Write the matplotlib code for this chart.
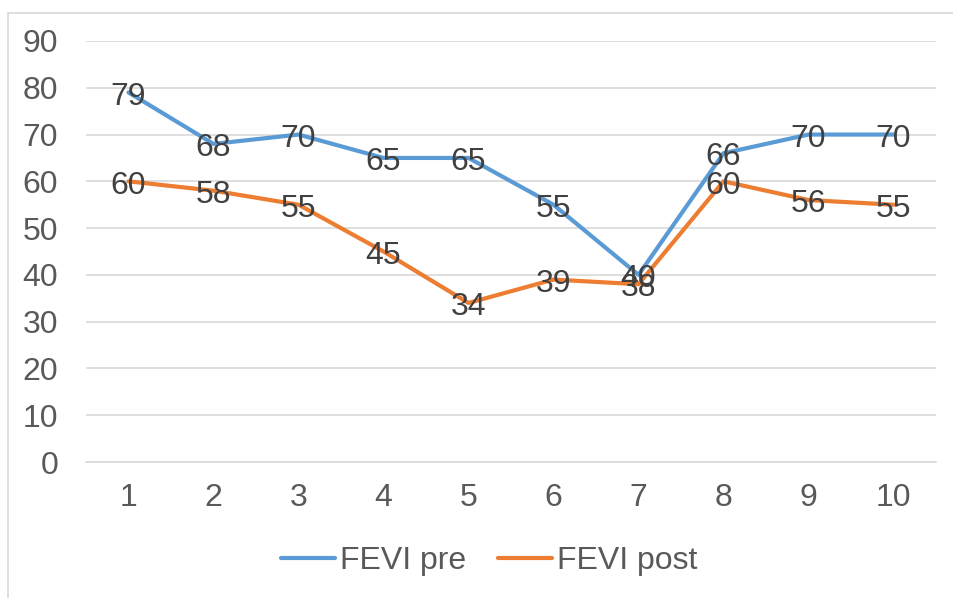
import matplotlib
matplotlib.use("Agg")
import matplotlib.pyplot as plt
from matplotlib.patches import Rectangle

categories = [1, 2, 3, 4, 5, 6, 7, 8, 9, 10]
fevi_pre = [79, 68, 70, 65, 65, 55, 40, 66, 70, 70]
fevi_post = [60, 58, 55, 45, 34, 39, 38, 60, 56, 55]

plt.rcParams['font.family'] = ['Liberation Sans', 'DejaVu Sans']

fig = plt.figure(figsize=(9.54, 5.98), dpi=100)
ax = fig.add_axes([86/954, 1 - 462/598, 850/954, 421/598])

# chart border
fig.patches.append(Rectangle((8/954, -0.1), 1.1, 1 - 13/598 + 0.1, transform=fig.transFigure,
                             fill=False, edgecolor='#d9d9d9', linewidth=1.2))

ax.plot(categories, fevi_pre, color='#5B9BD5', linewidth=3, label='FEVI pre', solid_capstyle='round')
ax.plot(categories, fevi_post, color='#ED7D31', linewidth=3, label='FEVI post', solid_capstyle='round')

for x, v in zip(categories, fevi_pre):
    ax.annotate(str(v), (x, v), xytext=(0, -3), textcoords='offset points',
                ha='center', va='center', fontsize=23, color='#404040')
for x, v in zip(categories, fevi_post):
    ax.annotate(str(v), (x, v), xytext=(0, -3), textcoords='offset points',
                ha='center', va='center', fontsize=23, color='#404040')

ax.set_xlim(0.5, 10.5)
ax.set_ylim(0, 90)
ax.set_yticks(range(0, 91, 10))
ax.set_xticks(categories)
ax.grid(axis='y', color='#d9d9d9', linewidth=1.2)
ax.set_axisbelow(True)
for s in ['top', 'right', 'left']:
    ax.spines[s].set_visible(False)
ax.spines['bottom'].set_color('#d9d9d9')
ax.spines['bottom'].set_linewidth(1.2)
ax.tick_params(length=0, labelsize=23, labelcolor='#595959')
ax.tick_params(axis='y', pad=20)
ax.tick_params(axis='x', pad=15)

ax.legend(loc='center', bbox_to_anchor=(489/954, 1 - 561/598), bbox_transform=fig.transFigure,
          ncol=2, frameon=False, fontsize=23, labelcolor='#595959', handlelength=1.7,
          handletextpad=0.15, columnspacing=1.0)

fig.savefig('out.png', dpi=100)
